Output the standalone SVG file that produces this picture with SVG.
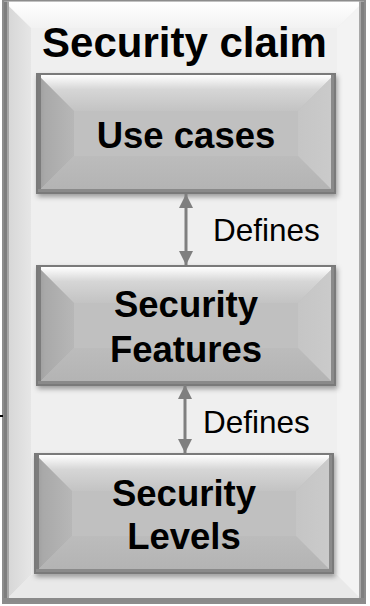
<svg xmlns="http://www.w3.org/2000/svg" width="370" height="606" viewBox="0 0 370 606">
  <defs>
    <style>
      .title { font-family: "Liberation Sans", Arial, sans-serif; font-weight: bold; font-size: 42px; fill: #000; text-anchor: middle; }
      .label { font-family: "Liberation Sans", Arial, sans-serif; font-weight: bold; font-size: 36.5px; fill: #000; text-anchor: middle; }
      .rel { font-family: "Liberation Sans", Arial, sans-serif; font-size: 31.5px; fill: #000; }
      .edge { stroke: #7f7f7f; stroke-width: 3; fill: none; marker-start: url(#head); marker-end: url(#head); }
      .outline { fill: none; stroke: #7a7a7a; stroke-width: 2; }
    </style>
    <marker id="head" viewBox="0 0 10 10" refX="10" refY="5" markerWidth="4.8" markerHeight="4.8" orient="auto-start-reverse" markerUnits="strokeWidth">
      <path d="M0,0 L10,5 L0,10 Z" fill="#7f7f7f"/>
    </marker>
    <filter id="shadow" x="-10%" y="-10%" width="120%" height="130%">
      <feDropShadow dx="1.5" dy="3" stdDeviation="2.5" flood-color="#000" flood-opacity="0.35"/>
    </filter>
    <!-- bevel shading for the inner boxes -->
    <linearGradient id="bTop" x1="0" y1="0" x2="0" y2="1">
      <stop offset="0" stop-color="#ffffff"/>
      <stop offset="0.4" stop-color="#d6d6d6"/>
      <stop offset="1" stop-color="#c3c3c3"/>
    </linearGradient>
    <linearGradient id="bLeft" x1="0" y1="0" x2="1" y2="0">
      <stop offset="0" stop-color="#9c9c9c"/>
      <stop offset="0.2" stop-color="#a9a9a9"/>
      <stop offset="1" stop-color="#b7b7b7"/>
    </linearGradient>
    <linearGradient id="bRight" x1="0" y1="0" x2="1" y2="0">
      <stop offset="0" stop-color="#c5c5c5"/>
      <stop offset="1" stop-color="#cbcbcb"/>
    </linearGradient>
    <linearGradient id="bBottom" x1="0" y1="0" x2="0" y2="1">
      <stop offset="0" stop-color="#bcbcbc"/>
      <stop offset="1" stop-color="#b3b3b3"/>
    </linearGradient>
    <!-- bevel shading for the outer container -->
    <linearGradient id="oTop" x1="0" y1="0" x2="0" y2="1">
      <stop offset="0" stop-color="#ffffff"/>
      <stop offset="1" stop-color="#f2f2f2"/>
    </linearGradient>
    <linearGradient id="oLeft" x1="0" y1="0" x2="1" y2="0">
      <stop offset="0" stop-color="#d4d4d4"/>
      <stop offset="1" stop-color="#e6e6e6"/>
    </linearGradient>
    <g id="bevelBox">
      <rect x="0" y="0" width="298" height="119" fill="#c0c0c0"/>
      <polygon points="1,1 297,1 261,37 37,37" fill="url(#bTop)"/>
      <polygon points="1,1 37,37 37,82 1,118" fill="url(#bLeft)"/>
      <polygon points="297,1 297,118 261,82 261,37" fill="url(#bRight)"/>
      <polygon points="1,118 37,82 261,82 297,118" fill="url(#bBottom)"/>
      <rect x="37" y="37" width="224" height="45" fill="#c0c0c0"/>
      <rect x="1" y="1" width="3" height="117" fill="#7c7c7c"/>
      <rect x="294" y="1" width="3" height="117" fill="#8a8a8a"/>
      <rect x="1" y="115" width="296" height="3" fill="#8a8a8a"/>
      <rect class="outline" x="0" y="0" width="298" height="119"/>
    </g>
  </defs>

  <!-- outer container: Security claim -->
  <g id="security-claim">
    <rect x="3" y="0.5" width="362" height="602.5" fill="#efefef"/>
    <polygon points="4,1.5 364,1.5 337,28 31,28" fill="url(#oTop)"/>
    <polygon points="4,1.5 31,28 31,575 4,602" fill="url(#oLeft)"/>
    <polygon points="364,1.5 364,602 337,575 337,28" fill="#f3f3f3"/>
    <polygon points="4,602 31,575 337,575 364,602" fill="#e9e9e9"/>
    <rect x="31" y="28" width="306" height="547" fill="#efefef"/>
    <rect x="4" y="1.5" width="3" height="600.5" fill="#7e7e7e"/>
    <rect x="7" y="1.5" width="2" height="600.5" fill="#a6a6a6"/>
    <rect x="359" y="1.5" width="2" height="600.5" fill="#a8a8a8"/>
    <rect x="361" y="1.5" width="3" height="600.5" fill="#808080"/>
    <rect x="4" y="598" width="360" height="4" fill="#8a8a8a"/>
    <rect x="3" y="0.5" width="362" height="602.5" fill="none" stroke="#8c8c8c" stroke-width="2"/>
    <text class="title" x="184.5" y="57">Security claim</text>
  </g>

  <!-- stray tick at left edge -->
  <line x1="0" y1="416" x2="3" y2="416" stroke="#000" stroke-width="2"/>

  <g id="use-cases">
    <use href="#bevelBox" x="37" y="74" filter="url(#shadow)"/>
    <text class="label" x="186" y="148">Use cases</text>
  </g>

  <g id="security-features">
    <use href="#bevelBox" x="37" y="266" filter="url(#shadow)"/>
    <text class="label" x="186" y="317">Security</text>
    <text class="label" x="186" y="362">Features</text>
  </g>

  <g id="security-levels">
    <use href="#bevelBox" x="35" y="454" filter="url(#shadow)"/>
    <text class="label" x="184" y="506">Security</text>
    <text class="label" x="184" y="549">Levels</text>
  </g>

  <g id="connectors">
    <line class="edge" x1="186" y1="194" x2="186" y2="265"/>
    <text class="rel" x="213" y="241">Defines</text>
    <line class="edge" x1="185" y1="385" x2="185" y2="453"/>
    <text class="rel" x="203" y="433">Defines</text>
  </g>
</svg>
